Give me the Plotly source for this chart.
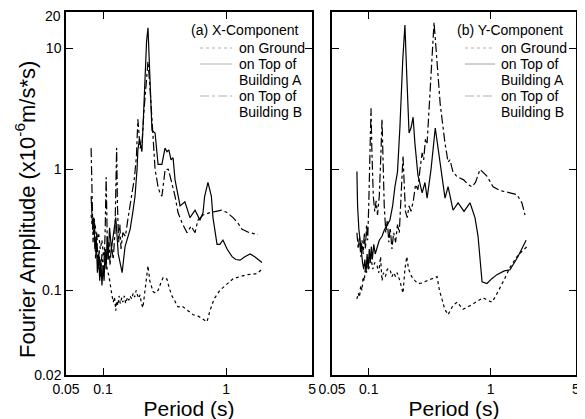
import math
import plotly.graph_objects as go

# ---------------- data (periods in s, amplitudes in 1e-6 m/s*s) ----------------
# (a) X-Component
gx_T = [
    0.080, 0.083, 0.086, 0.089, 0.092, 0.095, 0.098, 0.101, 0.104, 0.108,
    0.112, 0.116, 0.118, 0.121, 0.124, 0.127, 0.129, 0.132, 0.135, 0.138,
    0.142, 0.145, 0.149, 0.153, 0.158, 0.162, 0.166, 0.171, 0.176, 0.181,
    0.186, 0.189, 0.195, 0.200, 0.205, 0.211, 0.218, 0.226, 0.232, 0.240,
    0.255, 0.268, 0.280, 0.295, 0.308, 0.331, 0.345, 0.364, 0.385, 0.407,
    0.440, 0.482, 0.510, 0.540, 0.600, 0.650, 0.700, 0.740, 0.800, 0.890,
    1.00, 1.14, 1.30, 1.48, 1.65, 1.79, 1.96]
gx_A = [
    0.42, 0.30, 0.36, 0.26, 0.30, 0.22, 0.26, 0.19, 0.22, 0.15,
    0.13, 0.098, 0.092, 0.080, 0.088, 0.068, 0.082, 0.075, 0.090, 0.078,
    0.087, 0.080, 0.090, 0.078, 0.088, 0.083, 0.090, 0.085, 0.095, 0.088,
    0.100, 0.094, 0.086, 0.092, 0.078, 0.072, 0.095, 0.125, 0.160, 0.120,
    0.098, 0.095, 0.100, 0.115, 0.128, 0.124, 0.105, 0.090, 0.080, 0.073,
    0.074, 0.069, 0.066, 0.063, 0.061, 0.058, 0.055, 0.068, 0.085, 0.100,
    0.112, 0.125, 0.130, 0.135, 0.136, 0.138, 0.150]

ax_T = [
    0.080, 0.082, 0.084, 0.086, 0.088, 0.090, 0.092, 0.094, 0.096, 0.098,
    0.100, 0.102, 0.104, 0.106, 0.108, 0.110, 0.113, 0.117, 0.122, 0.127,
    0.133, 0.143, 0.151, 0.160, 0.166, 0.175, 0.182, 0.189, 0.192, 0.198,
    0.207, 0.214, 0.220, 0.226, 0.232, 0.240, 0.250, 0.265, 0.280, 0.301,
    0.319, 0.331, 0.343, 0.357, 0.371, 0.385, 0.400, 0.423, 0.463, 0.509,
    0.560, 0.614, 0.650, 0.670, 0.713, 0.760, 0.783, 0.845, 0.890, 0.944,
    1.02, 1.12, 1.20, 1.30, 1.42, 1.57, 1.71, 1.96]
ax_A = [
    0.60, 0.35, 0.40, 0.22, 0.28, 0.14, 0.20, 0.12, 0.18, 0.11,
    0.16, 0.12, 0.22, 0.15, 0.28, 0.18, 0.33, 0.22, 0.30, 0.40,
    0.20, 0.14, 0.23, 0.28, 0.32, 0.45, 0.60, 1.00, 1.45, 1.80,
    1.40, 3.00, 7.00, 11.5, 14.8, 5.00, 2.10, 2.00, 1.10, 1.10,
    1.50, 1.40, 1.45, 1.20, 1.25, 0.82, 0.68, 0.50, 0.54, 0.40,
    0.46, 0.38, 0.44, 0.60, 0.78, 0.60, 0.40, 0.24, 0.24, 0.26,
    0.22, 0.19, 0.18, 0.178, 0.19, 0.20, 0.19, 0.17]

bx_T = [
    0.080, 0.081, 0.083, 0.085, 0.087, 0.089, 0.091, 0.093, 0.095, 0.098,
    0.101, 0.104, 0.106, 0.108, 0.110, 0.112, 0.114, 0.117, 0.121, 0.125,
    0.127, 0.129, 0.131, 0.134, 0.137, 0.140, 0.145, 0.152, 0.160, 0.170,
    0.180, 0.187, 0.192, 0.200, 0.207, 0.215, 0.225, 0.232, 0.240, 0.250,
    0.258, 0.265, 0.280, 0.290, 0.301, 0.320, 0.340, 0.364, 0.385, 0.407,
    0.440, 0.482, 0.520, 0.560, 0.590, 0.650, 0.740, 0.830, 0.920, 1.02,
    1.14, 1.25, 1.35, 1.55, 1.82]
bx_A = [
    1.50, 0.60, 0.25, 0.40, 0.18, 0.30, 0.15, 0.22, 0.13, 0.20,
    0.14, 0.30, 0.86, 0.30, 0.18, 0.25, 0.16, 0.24, 0.18, 0.30,
    0.60, 1.50, 0.50, 0.25, 0.35, 0.22, 0.30, 0.28, 0.40, 0.60,
    0.85, 1.30, 2.60, 1.50, 1.60, 3.00, 6.00, 7.80, 5.00, 2.50,
    1.40, 1.00, 0.72, 0.64, 0.60, 1.00, 1.00, 0.77, 0.60, 0.44,
    0.36, 0.30, 0.34, 0.30, 0.38, 0.42, 0.44, 0.45, 0.46, 0.44,
    0.40, 0.36, 0.32, 0.30, 0.29]

# (b) Y-Component
gy_T = [
    0.080, 0.082, 0.084, 0.086, 0.088, 0.090, 0.092, 0.094, 0.096, 0.098,
    0.100, 0.102, 0.104, 0.108, 0.112, 0.117, 0.121, 0.125, 0.1285, 0.132,
    0.137, 0.142, 0.149, 0.155, 0.160, 0.166, 0.171, 0.180, 0.191, 0.198,
    0.205, 0.212, 0.225, 0.240, 0.253, 0.270, 0.301, 0.330, 0.363, 0.380,
    0.399, 0.420, 0.447, 0.490, 0.530, 0.593, 0.680, 0.780, 0.865, 0.940,
    1.024, 1.10, 1.19, 1.30, 1.44, 1.64, 1.80, 1.98]
gy_A = [
    0.085, 0.095, 0.088, 0.110, 0.100, 0.130, 0.120, 0.160, 0.140, 0.190,
    0.150, 0.180, 0.190, 0.150, 0.170, 0.160, 0.140, 0.190, 0.120, 0.140,
    0.130, 0.150, 0.150, 0.130, 0.140, 0.130, 0.140, 0.120, 0.095, 0.150,
    0.190, 0.150, 0.130, 0.120, 0.114, 0.115, 0.120, 0.125, 0.130, 0.100,
    0.083, 0.070, 0.063, 0.075, 0.080, 0.070, 0.075, 0.082, 0.087, 0.083,
    0.080, 0.090, 0.104, 0.125, 0.155, 0.190, 0.210, 0.230]

ay_T = [
    0.080, 0.081, 0.083, 0.085, 0.087, 0.089, 0.091, 0.093, 0.095, 0.097,
    0.099, 0.101, 0.103, 0.105, 0.107, 0.110, 0.113, 0.117, 0.122, 0.1285,
    0.135, 0.142, 0.149, 0.157, 0.164, 0.172, 0.180, 0.190, 0.198, 0.205,
    0.214, 0.222, 0.231, 0.239, 0.253, 0.274, 0.289, 0.301, 0.324, 0.351,
    0.384, 0.422, 0.447, 0.491, 0.540, 0.604, 0.676, 0.743, 0.787, 0.817,
    0.849, 0.931, 1.02, 1.125, 1.29, 1.44, 1.67, 1.95]
ay_A = [
    0.96, 0.50, 0.32, 0.25, 0.20, 0.17, 0.15, 0.18, 0.14, 0.20,
    0.15, 0.22, 0.17, 0.23, 0.18, 0.24, 0.20, 0.23, 0.26, 0.28,
    0.32, 0.35, 0.38, 0.50, 0.72, 0.95, 2.20, 8.00, 15.6, 6.00,
    2.00, 2.20, 2.70, 1.65, 0.90, 0.64, 0.78, 0.58, 1.00, 2.20,
    1.14, 0.58, 0.72, 0.46, 0.53, 0.45, 0.53, 0.40, 0.28, 0.18,
    0.118, 0.114, 0.125, 0.135, 0.145, 0.148, 0.19, 0.26]

by_T = [
    0.080, 0.082, 0.084, 0.086, 0.088, 0.090, 0.092, 0.094, 0.096, 0.098,
    0.100, 0.102, 0.1044, 0.106, 0.109, 0.112, 0.115, 0.118, 0.122, 0.126,
    0.1285, 0.131, 0.134, 0.138, 0.142, 0.146, 0.150, 0.155, 0.160, 0.166,
    0.172, 0.178, 0.184, 0.191, 0.196, 0.200, 0.207, 0.214, 0.222, 0.232,
    0.242, 0.253, 0.263, 0.274, 0.282, 0.292, 0.301, 0.315, 0.330, 0.343,
    0.356, 0.370, 0.385, 0.399, 0.420, 0.447, 0.463, 0.491, 0.530, 0.600,
    0.652, 0.700, 0.750, 0.817, 0.880, 0.930, 1.045, 1.19, 1.44, 1.64,
    1.80, 1.91]
by_A = [
    0.30, 0.22, 0.28, 0.19, 0.26, 0.20, 0.30, 0.22, 0.35, 0.26,
    0.50, 1.20, 3.20, 1.50, 0.60, 0.45, 0.55, 0.42, 0.60, 1.40,
    2.60, 1.20, 0.50, 0.30, 0.38, 0.25, 0.33, 0.22, 0.30, 0.25,
    0.35, 0.30, 0.60, 1.30, 0.70, 0.45, 0.40, 0.50, 0.45, 0.55,
    0.75, 0.68, 1.00, 1.37, 1.20, 1.80, 1.65, 3.50, 8.00, 16.4,
    10.0, 5.80, 3.50, 2.60, 1.70, 1.15, 1.20, 0.95, 0.87, 0.82,
    0.75, 0.72, 0.78, 1.00, 0.93, 0.88, 0.72, 0.67, 0.64, 0.62,
    0.53, 0.42]

series_names = ["on Ground", "on Top of Building A", "on Top of Building B"]
legend_lines = [["on Ground"], ["on Top of", "Building A"], ["on Top of", "Building B"]]
panel_titles = ["(a) X-Component", "(b) Y-Component"]

x_tickvals = [0.05, 0.1, 1, 5]
x_ticktext = ["0.05", "0.1", "1", "5"]
x_minor = [0.06, 0.07, 0.08, 0.09, 0.2, 0.3, 0.4, 0.5, 0.6, 0.7, 0.8, 0.9, 2, 3, 4]
y_tickvals = [0.02, 0.1, 1, 10]
y_ticktext = ["0.02", "0.1", "1", "10"]
y_top_text = "20"
y_minor = [0.03, 0.04, 0.05, 0.06, 0.07, 0.08, 0.09,
           0.2, 0.3, 0.4, 0.5, 0.6, 0.7, 0.8, 0.9,
           2, 3, 4, 5, 6, 7, 8, 9]

# ---------------- figure ----------------
FONT = "Liberation Sans, Arial, Helvetica, sans-serif"
fig = go.Figure()
dashes = ["dot", "solid", "dashdot"]

panels = [
    ("x", "y", [(gx_T, gx_A), (ax_T, ax_A), (bx_T, bx_A)]),
    ("x2", "y2", [(gy_T, gy_A), (ay_T, ay_A), (by_T, by_A)]),
]
for xa, ya, data in panels:
    for (T, A), name, dash in zip(data, series_names, dashes):
        fig.add_trace(go.Scatter(
            x=T, y=A, mode="lines", name=name,
            line=dict(color="black", width=1.2, dash=dash),
            xaxis=xa, yaxis=ya, showlegend=False,
        ))

XR = [math.log10(0.05), math.log10(5)]
YR = [math.log10(0.02), math.log10(20)]
tickfont = dict(size=14, family=FONT, color="black")

def xaxis_major(domain, anchor):
    return dict(
        type="log", range=XR, domain=domain, anchor=anchor,
        tickmode="array", tickvals=x_tickvals, ticktext=x_ticktext,
        ticks="inside", ticklen=7, tickwidth=1, tickcolor="black",
        showline=True, linecolor="black", linewidth=1.5, mirror="allticks",
        showgrid=False, zeroline=False, tickfont=tickfont, layer="above traces",
        ticklabeloverflow="allow",
        title=dict(text="Period (s)", font=dict(size=21, family=FONT, color="black"), standoff=2),
    )

def xaxis_minor(domain, anchor, over):
    return dict(
        type="log", range=XR, domain=domain, anchor=anchor, overlaying=over,
        tickmode="array", tickvals=x_minor, showticklabels=False,
        ticks="inside", ticklen=4, tickwidth=1, tickcolor="black",
        showline=True, linecolor="black", linewidth=1.5, mirror="allticks",
        showgrid=False, zeroline=False,
    )

def yaxis_major(anchor, labels):
    return dict(
        type="log", range=YR, domain=[0, 1], anchor=anchor,
        tickmode="array", tickvals=y_tickvals, ticktext=y_ticktext,
        ticks="inside", ticklen=7, tickwidth=1, tickcolor="black",
        showline=True, linecolor="black", linewidth=1.5, mirror="allticks",
        showgrid=False, zeroline=False, tickfont=tickfont, showticklabels=labels,
        layer="above traces", ticklabeloverflow="allow",
    )

def yaxis_minor(anchor, over):
    return dict(
        type="log", range=YR, domain=[0, 1], anchor=anchor, overlaying=over,
        tickmode="array", tickvals=y_minor, showticklabels=False,
        ticks="inside", ticklen=4, tickwidth=1, tickcolor="black",
        showline=True, linecolor="black", linewidth=1.5, mirror="allticks",
        showgrid=False, zeroline=False,
    )

# ---- in-panel legends (title, line samples, label rows) ----
LEG = {
    "x": dict(title_x=0.504, sample=(0.545, 0.675), text_x=0.699),
    "x2": dict(title_x=0.508, sample=(0.545, 0.668), text_x=0.689),
}
title_y = 0.950
row_y = [0.9008, 0.8567, 0.8127, 0.7686, 0.7245]   # text rows, top to bottom
sample_rows = [0, 1, 3]                           # row of each sample line

annotations = []
shapes = []
for (xa, ya, _), ptitle in zip(panels, panel_titles):
    cfg = LEG[xa]
    xr, yr = f"{xa} domain", f"{ya} domain"
    annotations.append(dict(text=ptitle, x=cfg["title_x"], y=title_y, xref=xr, yref=yr,
                            xanchor="left", yanchor="middle", showarrow=False, borderpad=0,
                            font=dict(size=14, family=FONT, color="black")))
    r = 0
    for lines, dash, srow in zip(legend_lines, dashes, sample_rows):
        shapes.append(dict(type="line", xref=xr, yref=yr,
                           x0=cfg["sample"][0], x1=cfg["sample"][1],
                           y0=row_y[srow], y1=row_y[srow],
                           line=dict(color="black", width=1.2, dash=dash)))
        for ln in lines:
            annotations.append(dict(text=ln, x=cfg["text_x"], y=row_y[r], xref=xr, yref=yr,
                                    xanchor="left", yanchor="middle", showarrow=False,
                                    borderpad=0,
                                    font=dict(size=14, family=FONT, color="black")))
            r += 1

# top y tick label "20", nudged down slightly so it stays inside the page
annotations.append(dict(text=y_top_text, xref="x domain", yref="y domain",
                        x=-0.016, y=1, xanchor="right", yanchor="middle",
                        yshift=-4, showarrow=False, borderpad=0,
                        font=dict(size=14, family=FONT, color="black")))

# y-axis title (placed to match the reference's vertical position)
annotations.append(dict(text="Fourier Amplitude (x10<sup>-6</sup>m/s*s)",
                        xref="paper", yref="paper", x=-0.080, y=0.455,
                        xanchor="center", yanchor="middle", textangle=-90, showarrow=False,
                        font=dict(size=22, family=FONT, color="black")))

# The page body adds an 8 px offset; margins compensate so the frames land
# at x 66..312 / 332..576 and y 12..375 in the 585x419 window.
D1 = [0, 0.4824]
D2 = [0.5216, 1]
fig.update_layout(
    template="simple_white",
    width=585, height=419,
    margin=dict(l=58, r=17, t=4, b=52, autoexpand=False),
    paper_bgcolor="white", plot_bgcolor="white",
    font=dict(family=FONT, size=14, color="black"),
    showlegend=False,
    xaxis=xaxis_major(D1, "y"),
    xaxis2=xaxis_major(D2, "y2"),
    xaxis3=xaxis_minor(D1, "y", "x"),
    xaxis4=xaxis_minor(D2, "y2", "x2"),
    yaxis=yaxis_major("x", True),
    yaxis2=yaxis_major("x2", False),
    yaxis3=yaxis_minor("x", "y"),
    yaxis4=yaxis_minor("x2", "y2"),
    annotations=annotations,
    shapes=shapes,
)

fig.write_html("out.html")
